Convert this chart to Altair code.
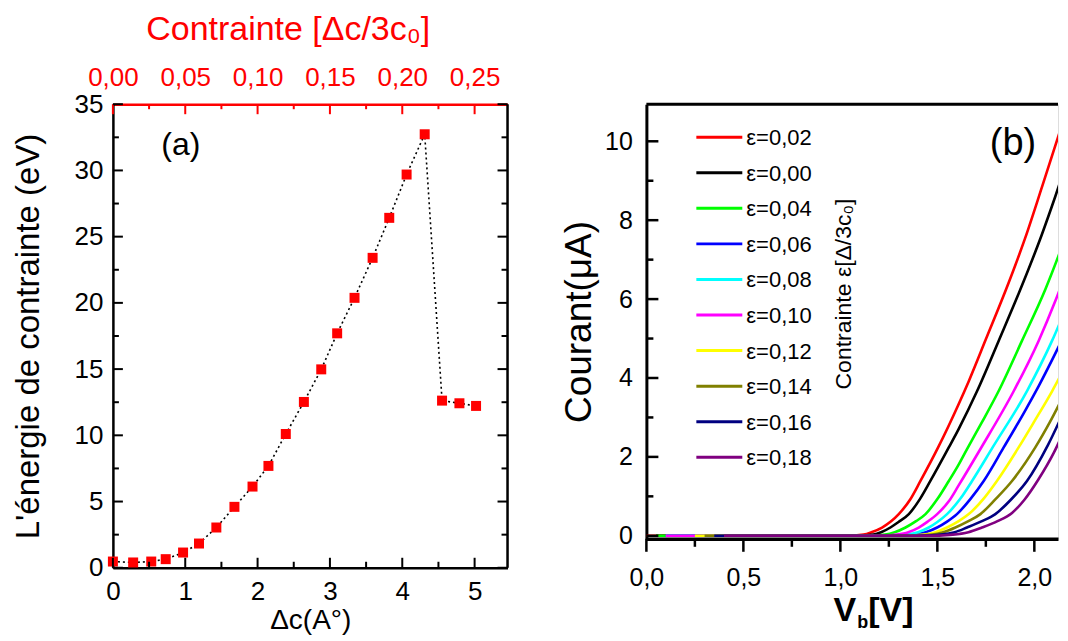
import altair as alt
import pandas as pd

FONT = "Liberation Sans, Arial, Helvetica, sans-serif"

# ---------------- Panel (a) data ----------------
dc_values = [0.0, 0.28, 0.53, 0.73, 0.97, 1.19, 1.43, 1.68, 1.93, 2.15, 2.39,
             2.64, 2.88, 3.10, 3.34, 3.59, 3.82, 4.06, 4.31, 4.55, 4.79, 5.02]
energy_values = [0.47, 0.40, 0.47, 0.65, 1.15, 1.83, 3.04, 4.60, 6.13, 7.69, 10.1,
                 12.52, 14.98, 17.7, 20.38, 23.4, 26.42, 29.69, 32.73, 12.62, 12.42, 12.22]
xa_major = [0, 1, 2, 3, 4, 5]
xa_minor = [0.5, 1.5, 2.5, 3.5, 4.5]
ya_major = [0, 5, 10, 15, 20, 25, 30, 35]
ya_minor = [2.5, 7.5, 12.5, 17.5, 22.5, 27.5, 32.5]
top_tick_labels = ["0,00", "0,05", "0,10", "0,15", "0,20", "0,25"]

# ---------------- Panel (b) data ----------------
legend_labels = ["ε=0,02", "ε=0,00", "ε=0,04", "ε=0,06", "ε=0,08",
                 "ε=0,10", "ε=0,12", "ε=0,14", "ε=0,16", "ε=0,18"]
curve_colors = ["#ff0000", "#000000", "#00ff00", "#0000ff", "#00ffff",
                "#ff00ff", "#ffff00", "#808000", "#000080", "#800080"]
curve_v = [
    [0, 1.05, 1.12, 1.16, 1.215, 1.26, 1.301, 1.36, 1.413, 1.504, 1.609, 1.662, 1.75, 1.868, 1.953, 2.04, 2.135],
    [0.05, 1.10, 1.17, 1.21, 1.258, 1.30, 1.353, 1.41, 1.464, 1.559, 1.609, 1.705, 1.816, 1.945, 2.036, 2.108, 2.166],
    [0.05, 1.15, 1.23, 1.28, 1.336, 1.39, 1.439, 1.50, 1.559, 1.609, 1.653, 1.73, 1.816, 1.936, 2.057, 2.14, 2.166],
    [0.1, 1.28, 1.38, 1.44, 1.499, 1.55, 1.601, 1.67, 1.739, 1.842, 1.95, 2.023, 2.166],
    [0.1, 1.25, 1.34, 1.40, 1.456, 1.50, 1.55, 1.62, 1.679, 1.785, 1.962, 2.091, 2.166],
    [0.1, 1.20, 1.29, 1.35, 1.404, 1.45, 1.499, 1.56, 1.609, 1.722, 1.894, 2.022, 2.108, 2.166],
    [0.25, 1.32, 1.43, 1.49, 1.55, 1.61, 1.662, 1.74, 1.807, 1.919, 2.0, 2.092, 2.166],
    [0.3, 1.36, 1.47, 1.53, 1.593, 1.66, 1.722, 1.80, 1.885, 2.005, 2.08, 2.166],
    [0.35, 1.40, 1.52, 1.59, 1.653, 1.73, 1.799, 1.88, 1.962, 2.07, 2.166],
    [0.4, 1.44, 1.58, 1.66, 1.73, 1.81, 1.885, 1.95, 2.02, 2.10, 2.166],
]
curve_i = [
    [0, 0, 0.03, 0.09, 0.21, 0.36, 0.55, 0.92, 1.39, 2.24, 3.33, 3.92, 4.98, 6.42, 7.55, 8.85, 10.3],
    [0, 0, 0.03, 0.09, 0.21, 0.35, 0.55, 0.93, 1.39, 2.24, 2.70, 3.67, 4.94, 6.45, 7.6, 8.6, 9.45],
    [0, 0, 0.03, 0.09, 0.21, 0.37, 0.55, 0.93, 1.39, 1.80, 2.2, 2.88, 3.67, 4.94, 6.25, 7.3, 7.65],
    [0, 0, 0.03, 0.09, 0.21, 0.36, 0.55, 0.93, 1.39, 2.24, 3.15, 3.8, 5.2],
    [0, 0, 0.03, 0.09, 0.21, 0.35, 0.55, 0.95, 1.39, 2.24, 3.67, 4.94, 5.8],
    [0, 0, 0.03, 0.09, 0.21, 0.36, 0.55, 0.88, 1.27, 2.2, 3.67, 4.94, 5.95, 6.7],
    [0, 0, 0.03, 0.09, 0.21, 0.37, 0.55, 0.95, 1.39, 2.24, 2.9, 3.67, 4.35],
    [0, 0, 0.03, 0.09, 0.21, 0.37, 0.55, 0.93, 1.39, 2.24, 2.88, 3.7],
    [0, 0, 0.03, 0.09, 0.21, 0.37, 0.55, 0.92, 1.39, 2.3, 3.3],
    [0, 0, 0.03, 0.09, 0.21, 0.37, 0.58, 0.92, 1.42, 2.1, 2.8],
]
xb_major = [0, 0.5, 1.0, 1.5, 2.0]
xb_minor = [0.25, 0.75, 1.25, 1.75]
yb_major = [0, 2, 4, 6, 8, 10]
yb_minor = [1, 3, 5, 7, 9]

dummy = pd.DataFrame({"a": [0]})

# ================= Panel (a) =================
WA, HA = 395, 464
xa = alt.Scale(domain=[0, 5.455], nice=False, zero=False)
ya = alt.Scale(domain=[0, 35], nice=False, zero=False)
df_a = pd.DataFrame({"dc": dc_values, "E": energy_values})

common = dict(ticks=False, tickSize=0, grid=False, labelFlush=False, labelOverlap=False)

bottom_axis = alt.Axis(values=xa_major, format="d", labelFont=FONT, labelFontSize=26,
                       labelColor="black", labelPadding=11, domainColor="black", domainWidth=2.5,
                       title="Δc(A°)", titleFont=FONT, titleFontSize=28,
                       titleFontWeight="normal", titleColor="black", titlePadding=2, **common)
left_axis = alt.Axis(values=ya_major, format="d", labelFont=FONT, labelFontSize=26,
                     labelColor="black", labelPadding=10, domainColor="black", domainWidth=2.5,
                     title="L'énergie de contrainte (eV)", titleFont=FONT, titleFontSize=33,
                     titleFontWeight="normal", titleColor="black", titlePadding=29, **common)
top_expr = "[" + ",".join("'%s'" % s for s in top_tick_labels) + "][round(datum.value)]"
top_axis = alt.Axis(orient="top", values=xa_major, labelExpr=top_expr, labelFont=FONT,
                    labelFontSize=26, labelColor="red", labelPadding=14, domainColor="red",
                    domainWidth=2.5, title="Contrainte [Δc/3c₀]", titleFont=FONT, titleFontSize=34,
                    titleFontWeight="normal", titleColor="red", titlePadding=18,
                    titleX=175, titleAlign="center", **common)

line_a = alt.Chart(df_a).mark_line(color="black", strokeDash=[2, 3], strokeWidth=1.6).encode(
    x=alt.X("dc:Q", scale=xa, axis=bottom_axis),
    y=alt.Y("E:Q", scale=ya, axis=left_axis),
)
pts_a = alt.Chart(df_a).mark_square(size=100, color="#ff0000", opacity=1).encode(
    x=alt.X("dc:Q", scale=xa, axis=None),
    y=alt.Y("E:Q", scale=ya, axis=None),
)
top_layer = alt.Chart(df_a).mark_point(opacity=0).encode(
    x=alt.X("dc:Q", scale=xa, axis=top_axis),
    y=alt.Y("E:Q", scale=ya, axis=None),
)


def xticks(vals, scale, y0, y1, color, sw=2):
    return alt.Chart(pd.DataFrame({"v": vals})).mark_rule(color=color, strokeWidth=sw).encode(
        x=alt.X("v:Q", scale=scale, axis=None), y=alt.value(y0), y2=alt.value(y1))


def yticks(vals, scale, x0, x1, color, sw=2):
    return alt.Chart(pd.DataFrame({"v": vals})).mark_rule(color=color, strokeWidth=sw).encode(
        y=alt.Y("v:Q", scale=scale, axis=None), x=alt.value(x0), x2=alt.value(x1))


ticks_a = [
    xticks(xa_major, xa, HA, HA - 10, "black"),
    xticks(xa_minor, xa, HA, HA - 6, "black"),
    xticks(xa_major, xa, 0, 10, "red"),
    xticks(xa_minor, xa, 0, 5, "red"),
    yticks(ya_major, ya, 0, 10, "black"),
    yticks(ya_minor, ya, 0, 6, "black"),
    yticks(ya_major, ya, WA, WA - 10, "black"),
    yticks(ya_minor, ya, WA, WA - 6, "black"),
]
right_border_a = alt.Chart(dummy).mark_rule(color="black", strokeWidth=2.5).encode(
    x=alt.value(WA), y=alt.value(0), y2=alt.value(HA))
label_a = alt.Chart(dummy).mark_text(text="(a)", font=FONT, fontSize=32, fontWeight="normal",
                                     color="black").encode(x=alt.value(68), y=alt.value(41))

left = alt.layer(line_a, pts_a, top_layer, *ticks_a, right_border_a, label_a).resolve_axis(
    x="independent", y="independent").properties(width=WA, height=HA)

# ================= Panel (b) =================
WB, HB = 412, 435
xb = alt.Scale(domain=[0, 2.122], nice=False, zero=False)
yb = alt.Scale(domain=[-0.076, 10.94], nice=False, zero=False)

xb_axis = alt.Axis(values=xb_major, labelExpr="replace(format(datum.value, '.1f'), '.', ',')",
                   labelFont=FONT, labelFontSize=25, labelColor="black", labelPadding=27,
                   domainColor="black", domainWidth=3.5, title=None, **common)
yb_axis = alt.Axis(values=yb_major, format="d", labelFont=FONT, labelFontSize=25,
                   labelColor="black", labelPadding=14, domainColor="black", domainWidth=3,
                   title="Courant(μA)", titleFont=FONT, titleFontSize=37,
                   titleFontWeight="normal", titleColor="black", titlePadding=6, **common)

curves = []
for k in range(len(curve_v)):
    d = pd.DataFrame({"V": curve_v[k], "I": curve_i[k]})
    curves.append(alt.Chart(d).mark_line(color=curve_colors[k], strokeWidth=2.6, clip=True,
                                         interpolate="monotone").encode(
        x=alt.X("V:Q", scale=xb, axis=xb_axis if k == 0 else None),
        y=alt.Y("I:Q", scale=yb, axis=yb_axis if k == 0 else None),
    ))

ticks_b = [
    yticks(yb_major, yb, 0, 12, "black", 2.5),
    yticks(yb_minor, yb, 0, 7, "black", 2.5),
    xticks(xb_major, xb, HB, HB + 13, "black", 2.5),
    xticks(xb_minor, xb, HB, HB + 8, "black", 2.5),
]
top_border_b = alt.Chart(dummy).mark_rule(color="black", strokeWidth=3).encode(
    x=alt.value(0), x2=alt.value(WB), y=alt.value(0))

legend_layers = []
for k, (lab, col) in enumerate(zip(legend_labels, curve_colors)):
    ypx = 33 + 35.6 * k
    legend_layers.append(alt.Chart(dummy).mark_rule(color=col, strokeWidth=3).encode(
        x=alt.value(50), x2=alt.value(96), y=alt.value(ypx)))
    legend_layers.append(alt.Chart(dummy).mark_text(
        text=lab, font=FONT, fontSize=22, align="left", baseline="middle", color="black").encode(
        x=alt.value(100), y=alt.value(ypx + 1)))

rot_text = alt.Chart(dummy).mark_text(
    text="Contrainte ε[Δ/3c₀]", font=FONT, fontSize=23, angle=270, align="center",
    baseline="middle", color="black").encode(x=alt.value(198), y=alt.value(190))
label_b = alt.Chart(dummy).mark_text(text="(b)", font=FONT, fontSize=38, color="black",
                                     baseline="middle").encode(x=alt.value(367), y=alt.value(40))
vb1 = alt.Chart(dummy).mark_text(text="V", font=FONT, fontSize=34, fontWeight="bold",
                                 align="right", baseline="middle", color="black").encode(
    x=alt.value(210), y=alt.value(507))
vb2 = alt.Chart(dummy).mark_text(text="b", font=FONT, fontSize=18, fontWeight="bold",
                                 align="left", baseline="middle", color="black").encode(
    x=alt.value(211), y=alt.value(519))
vb3 = alt.Chart(dummy).mark_text(text="[V]", font=FONT, fontSize=34, fontWeight="bold",
                                 align="left", baseline="middle", color="black").encode(
    x=alt.value(222), y=alt.value(507))

right = alt.layer(*curves, *ticks_b, top_border_b, *legend_layers, rot_text, label_b,
                  vb1, vb2, vb3).resolve_axis(x="independent", y="independent").properties(
    width=WB, height=HB)

chart = alt.hconcat(left, right, spacing=139, bounds="flush").properties(
    padding={"left": 3, "top": 3, "right": 0, "bottom": 0}
).configure_view(stroke=None).configure(background="white")

chart.save("out.html", embed_options={"renderer": "svg", "actions": False})
